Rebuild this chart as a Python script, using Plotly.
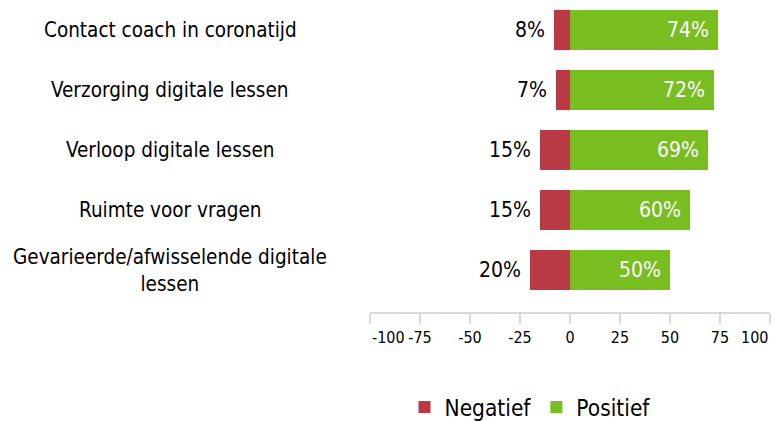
import plotly.graph_objects as go

categories = ["Gevarieerde/afwisselende digitale<br>lessen", "Ruimte voor vragen",
              "Verloop digitale lessen", "Verzorging digitale lessen",
              "Contact coach in coronatijd"]
negatief = [20, 15, 15, 7, 8]
positief = [50, 60, 69, 72, 74]
tick_vals = [-100, -75, -50, -25, 0, 25, 50, 75, 100]
tick_text = [str(v) for v in tick_vals]

RED = "#b93a44"
GREEN = "#78be20"
FONT = "DejaVu Sans Condensed, DejaVu Sans, sans-serif"
NB = "\u00a0"

fig = go.Figure()
fig.add_trace(go.Bar(
    y=categories, x=[-v for v in negatief], orientation="h", name="Negatief",
    marker=dict(color=RED, line=dict(width=0)),
    text=[f"{v}%" for v in negatief], texttemplate="%{text}" + NB, textposition="outside",
    textfont=dict(color="black", size=21, family=FONT), cliponaxis=False,
))
fig.add_trace(go.Bar(
    y=categories, x=positief, orientation="h", name="Positief",
    marker=dict(color=GREEN, line=dict(width=0)),
    texttemplate="%{x}%" + NB, textposition="inside", insidetextanchor="end",
    textfont=dict(color="white", size=21, family=FONT),
))

for c in categories:
    fig.add_annotation(x=-0.5, xref="paper", y=c, yref="y", text=c, showarrow=False,
                       xanchor="center", yanchor="middle", align="center",
                       font=dict(size=20.5, color="black", family=FONT))

# end tick labels kept inside the axis span, as in the reference
axis_text = tick_text[:]
for i, anchor in ((0, "left"), (len(tick_vals) - 1, "right")):
    fig.add_annotation(x=tick_vals[i], xref="x", y=0, yref="paper", yshift=-25,
                       text=tick_text[i], showarrow=False, xanchor=anchor, yanchor="middle",
                       font=dict(size=16, color="black", family=FONT))
    axis_text[i] = ""

fig.update_layout(
    barmode="relative", bargap=0.33,
    width=781, height=421,
    margin=dict(l=370, r=11, t=0, b=109, autoexpand=False),
    paper_bgcolor="white", plot_bgcolor="white",
    font=dict(family=FONT, color="black"),
    showlegend=True,
    legend=dict(orientation="h", x=0.4, xanchor="center", y=-0.306, yanchor="middle",
                font=dict(size=22.5, family=FONT), traceorder="normal"),
)
fig.update_xaxes(range=[-100, 100], tickvals=tick_vals, ticktext=axis_text,
                 showgrid=False, zeroline=False,
                 showline=True, linecolor="#d9d9d9", linewidth=2,
                 ticks="outside", ticklen=10, tickcolor="#d9d9d9", tickwidth=2,
                 tickfont=dict(size=16, color="black", family=FONT), fixedrange=True)
fig.update_yaxes(range=[-0.7, 4.5], showticklabels=False, showgrid=False, zeroline=False,
                 showline=False, ticks="")

fig.write_html("out.html", config={"displayModeBar": False},
               post_script="document.body.style.margin='0px';")
